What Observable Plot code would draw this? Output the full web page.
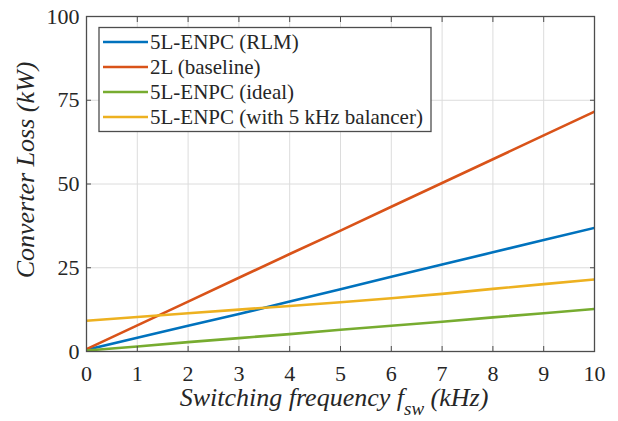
<!DOCTYPE html>
<html>
<head>
<meta charset="utf-8">
<script src="https://cdn.jsdelivr.net/npm/d3@7"></script>
<script src="https://cdn.jsdelivr.net/npm/@observablehq/plot@0.6"></script>
<style>
  html, body { margin: 0; padding: 0; background: #fff; }
</style>
</head>
<body>
<div id="chart"></div>
<script>
// ---- data ----
const freq = [0, 1, 2, 3, 4, 5, 6, 7, 8, 9, 10];            // kHz
const lossRLM      = [0.5, 4.1, 7.7, 11.2, 14.9, 18.6, 22.3, 26.0, 29.6, 33.3, 36.9];
const lossBaseline = [0.7, 7.8, 14.9, 22.0, 29.1, 36.1, 43.2, 50.3, 57.4, 64.5, 71.6];
const lossIdeal    = [0.3, 1.5, 2.8, 4.0, 5.2, 6.5, 7.7, 8.9, 10.2, 11.4, 12.7];
const lossBal5k    = [9.2, 10.3, 11.4, 12.5, 13.6, 14.7, 15.9, 17.2, 18.7, 20.1, 21.5];
const seriesNames  = ["5L-ENPC (RLM)", "2L (baseline)", "5L-ENPC (ideal)", "5L-ENPC (with 5 kHz balancer)"];
const seriesColors = ["#0072BD", "#D95319", "#77AC30", "#EDB120"];
const xTicks = [0, 1, 2, 3, 4, 5, 6, 7, 8, 9, 10];
const yTicks = [0, 25, 50, 75, 100];

const seriesValues = [lossRLM, lossBaseline, lossIdeal, lossBal5k];
const rows = [];
seriesValues.forEach((vals, i) => vals.forEach((v, j) => rows.push({name: seriesNames[i], f: freq[j], loss: v})));

const W = 618, H = 421;
const mL = 86, mR = 24, mT = 16, mB = 70;
const font = "Liberation Serif";

const chart = Plot.plot({
  width: W, height: H,
  marginLeft: mL, marginRight: mR, marginTop: mT, marginBottom: mB,
  style: {fontSize: "22px", color: "#262626", background: "#fff"},
  x: {domain: [0, 10]},
  y: {domain: [0, 100]},
  color: {domain: seriesNames, range: seriesColors},
  marks: [
    Plot.gridX(xTicks, {stroke: "#dcdcdc", strokeOpacity: 1, strokeWidth: 1}),
    Plot.gridY(yTicks, {stroke: "#dcdcdc", strokeOpacity: 1, strokeWidth: 1}),
    Plot.line(rows, {x: "f", y: "loss", z: "name", stroke: "name", strokeWidth: 2.6, clip: true}),
    Plot.frame({stroke: "#4d4d4d", strokeWidth: 1.3}),
    // inward ticks
    Plot.axisX(xTicks, {anchor: "bottom", tickSize: -5, tickFormat: () => "", label: null, stroke: "#4d4d4d"}),
    Plot.axisX(xTicks, {anchor: "top", tickSize: -5, tickFormat: () => "", label: null, stroke: "#4d4d4d"}),
    Plot.axisY(yTicks, {anchor: "left", tickSize: -5, tickFormat: () => "", label: null, stroke: "#4d4d4d"}),
    Plot.axisY(yTicks, {anchor: "right", tickSize: -5, tickFormat: () => "", label: null, stroke: "#4d4d4d"}),
    // labels
    Plot.axisX(xTicks, {anchor: "bottom", tickSize: 0, tickPadding: 14, label: null, fill: "#262626", fontSize: 22}),
    Plot.axisY(yTicks, {anchor: "left", tickSize: 0, tickPadding: 7, label: null, fill: "#262626", fontSize: 22})
  ]
});

const svg = d3.select(chart);
svg.attr("font-family", font);
// axis titles
svg.append("text")
  .attr("x", 334).attr("y", 406)
  .attr("text-anchor", "middle")
  .attr("font-style", "italic").attr("font-size", 26).attr("fill", "#262626")
  .call(t => {
    t.append("tspan").text("Switching frequency ");
    t.append("tspan").text("f");
    t.append("tspan").attr("font-size", 19).attr("dy", 9).text("sw");
    t.append("tspan").attr("dy", -9).text(" (kHz)");
  });
svg.append("text")
  .attr("transform", `translate(34,170) rotate(-90)`)
  .attr("text-anchor", "middle")
  .attr("font-style", "italic").attr("font-size", 26).attr("fill", "#262626")
  .text("Converter Loss (kW)");

// legend
const lg = svg.append("g");
lg.append("rect").attr("x", 99).attr("y", 27.5).attr("width", 332).attr("height", 104)
  .attr("fill", "#fff").attr("stroke", "#4d4d4d").attr("stroke-width", 1.3);
seriesNames.forEach((n, i) => {
  const y = 42 + i * 25;
  lg.append("line").attr("x1", 103).attr("x2", 148).attr("y1", y).attr("y2", y)
    .attr("stroke", seriesColors[i]).attr("stroke-width", 2.6);
  lg.append("text").attr("x", 150).attr("y", y).attr("dy", "0.35em")
    .attr("text-anchor", "start")
    .attr("font-size", 21).attr("fill", "#262626").text(n);
});

svg.selectAll("text, g").attr("font-family", font);
document.getElementById("chart").appendChild(chart);
</script>
</body>
</html>
